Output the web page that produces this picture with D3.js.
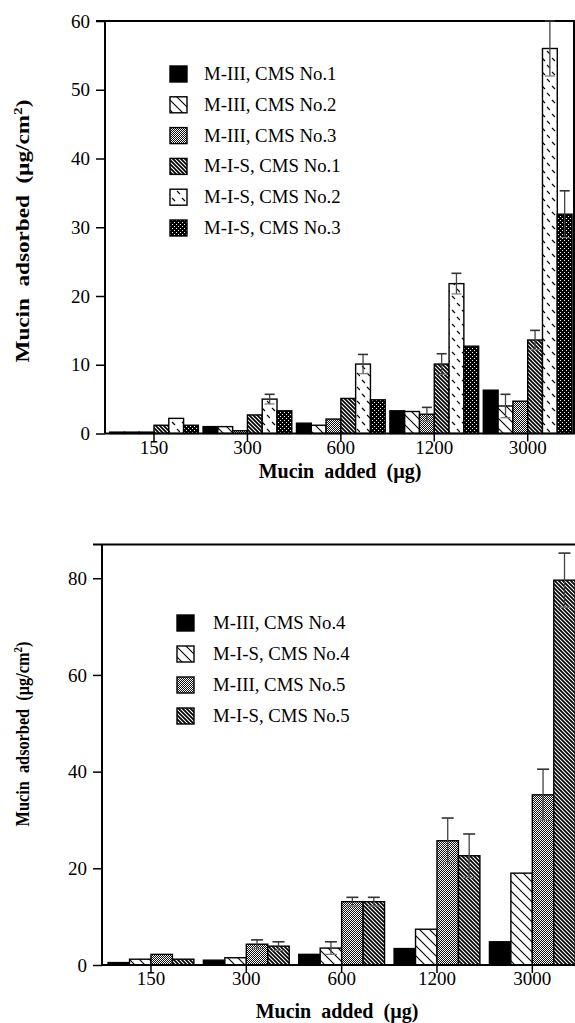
<!DOCTYPE html>
<html>
<head>
<meta charset="utf-8">
<script src="https://cdn.jsdelivr.net/npm/d3@7"></script>
<style>
  html, body { margin: 0; padding: 0; background: #fff; }
  svg { display: block; }
  text { font-family: "Liberation Serif", "Times New Roman", Times, serif; fill: #000; }
</style>
</head>
<body>
<svg id="chart" width="575" height="1023"></svg>
<script>
// Amount of mucin added per well (µg)
const doses = ["150", "300", "600", "1200", "3000"];

// Upper panel: CMS No.1 – No.3
const upperSeries = ["M-III, CMS No.1", "M-III, CMS No.2", "M-III, CMS No.3",
                     "M-I-S, CMS No.1", "M-I-S, CMS No.2", "M-I-S, CMS No.3"];
const m3No1 = [0.2, 1.0, 1.5, 3.3, 6.3];
const m3No2 = [0.2, 1.0, 1.2, 3.2, 4.0];
const m3No3 = [0.2, 0.4, 2.1, 2.8, 4.7];
const misNo1 = [1.2, 2.7, 5.1, 10.1, 13.6];
const misNo2 = [2.2, 5.0, 10.1, 21.8, 56.0];
const misNo3 = [1.2, 3.3, 4.9, 12.7, 31.9];
const m3No1Err = [null, null, null, null, null];
const m3No2Err = [null, null, null, null, 1.7];
const m3No3Err = [null, null, null, 1.0, null];
const misNo1Err = [null, null, null, 1.5, 1.4];
const misNo2Err = [null, 0.7, 1.4, 1.5, 4.0];
const misNo3Err = [null, null, null, null, 3.4];
const upperTicks = [0, 10, 20, 30, 40, 50, 60];

// Lower panel: CMS No.4 – No.5
const lowerSeries = ["M-III, CMS No.4", "M-I-S, CMS No.4", "M-III, CMS No.5", "M-I-S, CMS No.5"];
const m3No4 = [0.5, 1.0, 2.2, 3.4, 4.8];
const misNo4 = [1.2, 1.5, 3.5, 7.4, 19.0];
const m3No5 = [2.2, 4.3, 13.1, 25.7, 35.2];
const misNo5 = [1.2, 3.9, 13.1, 22.6, 79.6];
const m3No4Err = [null, null, null, null, null];
const misNo4Err = [null, null, 1.3, null, null];
const m3No5Err = [null, 0.9, 0.9, 4.7, 5.3];
const misNo5Err = [null, 0.9, 0.9, 4.5, 5.6];
const lowerTicks = [0, 20, 40, 60, 80];

const svg = d3.select("#chart");
const defs = svg.append("defs");

// ---- fill patterns ----
function diagPattern(id, size, bg, fg, width) {
  const p = defs.append("pattern").attr("id", id)
    .attr("patternUnits", "userSpaceOnUse").attr("width", size).attr("height", size);
  p.append("rect").attr("width", size).attr("height", size).attr("fill", bg);
  p.append("path")
    .attr("d", `M0,0L${size},${size}M${size - 2},-2L${size + 2},2M-2,${size - 2}L2,${size + 2}`)
    .attr("stroke", fg).attr("stroke-width", width).attr("fill", "none");
}
diagPattern("hatchSparse", 10, "#fff", "#000", 1.1);
diagPattern("hatchDense", 4, "#000", "#fff", 1.1);

// fine gray halftone
(function () {
  const p = defs.append("pattern").attr("id", "stipple")
    .attr("patternUnits", "userSpaceOnUse").attr("width", 2).attr("height", 2);
  p.append("rect").attr("width", 2).attr("height", 2).attr("fill", "#111");
  p.append("rect").attr("x", 0).attr("y", 0).attr("width", 1).attr("height", 1).attr("fill", "#fff");
  p.append("rect").attr("x", 1).attr("y", 1).attr("width", 1).attr("height", 1).attr("fill", "#fff");
})();

// white dots on black
(function () {
  const p = defs.append("pattern").attr("id", "dots")
    .attr("patternUnits", "userSpaceOnUse").attr("width", 4).attr("height", 4);
  p.append("rect").attr("width", 4).attr("height", 4).attr("fill", "#000");
  p.append("rect").attr("x", 0).attr("y", 0).attr("width", 1).attr("height", 1).attr("fill", "#fff");
  p.append("rect").attr("x", 2).attr("y", 2).attr("width", 1).attr("height", 1).attr("fill", "#fff");
})();

// short dashes on white
(function () {
  const p = defs.append("pattern").attr("id", "dashes")
    .attr("patternUnits", "userSpaceOnUse").attr("width", 10).attr("height", 14);
  p.append("rect").attr("width", 10).attr("height", 14).attr("fill", "#fff");
  p.append("path").attr("d", "M2,2l3,3M7,9l3,3")
    .attr("stroke", "#000").attr("stroke-width", 1.2).attr("fill", "none");
})();

function drawPanel(cfg) {
  const g = svg.append("g");
  const x = d3.scaleBand().domain(doses).range(cfg.xRange)
    .paddingInner(cfg.padIn).paddingOuter(cfg.padOut);
  const xs = d3.scaleBand().domain(cfg.series).range([0, x.bandwidth()]);
  const y = d3.scaleLinear().domain(cfg.yDomain).range(cfg.yRange);

  // frame: top border (and right border where present)
  g.append("line").attr("x1", cfg.axisX - 9).attr("x2", 575)
    .attr("y1", y(cfg.yDomain[1])).attr("y2", y(cfg.yDomain[1]))
    .attr("stroke", "#000").attr("stroke-width", 2);
  if (cfg.rightBorder) {
    g.append("line").attr("x1", cfg.rightBorder).attr("x2", cfg.rightBorder)
      .attr("y1", y(cfg.yDomain[1])).attr("y2", y(0))
      .attr("stroke", "#000").attr("stroke-width", 2);
  }

  // bars
  const rows = [];
  cfg.series.forEach((s, i) => {
    doses.forEach((d, j) => {
      rows.push({ s, d, v: cfg.values[i][j], e: cfg.errors[i][j], fill: cfg.fills[i] });
    });
  });
  g.selectAll("rect.bar").data(rows).join("rect").attr("class", "bar")
    .attr("x", r => x(r.d) + xs(r.s))
    .attr("width", xs.bandwidth())
    .attr("y", r => y(r.v))
    .attr("height", r => y(0) - y(r.v))
    .attr("fill", r => r.fill)
    .attr("stroke", "#000").attr("stroke-width", 1.4);

  // error bars
  const eb = rows.filter(r => r.e != null);
  const cx = r => x(r.d) + xs(r.s) + xs.bandwidth() / 2;
  g.selectAll("line.err").data(eb).join("line").attr("class", "err")
    .attr("x1", cx).attr("x2", cx)
    .attr("y1", r => y(r.v - r.e)).attr("y2", r => y(r.v + r.e))
    .attr("stroke", "#444").attr("stroke-width", 1.3);
  g.selectAll("line.capTop").data(eb).join("line").attr("class", "capTop")
    .attr("x1", r => cx(r) - cfg.cap / 2).attr("x2", r => cx(r) + cfg.cap / 2)
    .attr("y1", r => y(r.v + r.e)).attr("y2", r => y(r.v + r.e))
    .attr("stroke", "#333").attr("stroke-width", 1.6);
  g.selectAll("line.capBot").data(eb).join("line").attr("class", "capBot")
    .attr("x1", r => cx(r) - cfg.cap / 2).attr("x2", r => cx(r) + cfg.cap / 2)
    .attr("y1", r => y(r.v - r.e)).attr("y2", r => y(r.v - r.e))
    .attr("stroke", "#777").attr("stroke-width", 1.2);

  // baseline
  g.append("line").attr("x1", cfg.axisX).attr("x2", 575)
    .attr("y1", y(0)).attr("y2", y(0))
    .attr("stroke", "#000").attr("stroke-width", 2);

  // y axis
  const ya = g.append("g").attr("transform", `translate(${cfg.axisX},0)`)
    .call(d3.axisLeft(y).tickValues(cfg.ticks).tickSize(9).tickSizeOuter(0).tickPadding(6));
  ya.attr("font-family", null).attr("font-size", null);
  ya.select(".domain").attr("stroke", "#000").attr("stroke-width", 2)
    .attr("d", `M0,${y(cfg.yDomain[1])}V${y(0)}`);
  ya.selectAll(".tick line").attr("stroke", "#000").attr("stroke-width", 1.5);
  ya.selectAll(".tick text").attr("font-size", 19);

  // x axis (ticks at group centres)
  const xa = g.append("g").attr("transform", `translate(0,${y(0)})`)
    .call(d3.axisBottom(x).tickSize(8).tickSizeOuter(0).tickPadding(-1));
  xa.attr("font-family", null).attr("font-size", null);
  xa.select(".domain").remove();
  xa.selectAll(".tick line").attr("stroke", "#000").attr("stroke-width", 1.5);
  xa.selectAll(".tick text").attr("font-size", 19);

  // x title
  g.append("text").attr("x", cfg.xTitle[0]).attr("y", cfg.xTitle[1])
    .attr("text-anchor", "middle").attr("font-size", 20).attr("font-weight", "bold")
    .style("white-space", "pre")
    .text("Mucin  added  (\u00b5g)");

  // y title, rotated
  const yt = g.append("text").attr("text-anchor", "middle")
    .attr("font-size", 18).attr("font-weight", "bold").style("white-space", "pre");
  yt.append("tspan").text("Mucin  adsorbed  (\u00b5g/cm");
  yt.append("tspan").attr("dy", -7).attr("font-size", 12).text("2");
  yt.append("tspan").attr("dy", 7).text(")");
  const len = yt.node().getComputedTextLength();
  const sx = cfg.yTitle[2] / len;
  yt.attr("transform", `translate(${cfg.yTitle[0]},${cfg.yTitle[1]}) rotate(-90) scale(${sx},1)`);

  // legend
  const lg = g.append("g");
  cfg.series.forEach((s, i) => {
    const cy = cfg.legend.y0 + i * cfg.legend.dy;
    lg.append("rect").attr("x", cfg.legend.x).attr("y", cy - 8)
      .attr("width", 17).attr("height", 16)
      .attr("fill", cfg.fills[i]).attr("stroke", "#000").attr("stroke-width", 1.4);
    lg.append("text").attr("x", cfg.legend.tx).attr("y", cy + 6)
      .attr("font-size", 18.8).text(s);
  });
}

drawPanel({
  series: upperSeries,
  values: [m3No1, m3No2, m3No3, misNo1, misNo2, misNo3],
  errors: [m3No1Err, m3No2Err, m3No3Err, misNo1Err, misNo2Err, misNo3Err],
  fills: ["#000", "url(#hatchSparse)", "url(#stipple)", "url(#hatchDense)", "url(#dashes)", "url(#dots)"],
  xRange: [107.3, 574.4], padIn: 0.05, padOut: 0.025,
  yDomain: [0, 60], yRange: [433.5, 21], ticks: upperTicks,
  axisX: 105, rightBorder: 574, cap: 10,
  xTitle: [340, 478], yTitle: [29, 231, 263],
  legend: { x: 170, tx: 204, y0: 74, dy: 30.8 }
});

drawPanel({
  series: lowerSeries,
  values: [m3No4, misNo4, m3No5, misNo5],
  errors: [m3No4Err, misNo4Err, m3No5Err, misNo5Err],
  fills: ["#000", "url(#hatchSparse)", "url(#stipple)", "url(#hatchDense)"],
  xRange: [103.3, 580], padIn: 0.1, padOut: 0.05,
  yDomain: [0, 87], yRange: [965, 544.4], ticks: lowerTicks,
  axisX: 102, rightBorder: null, cap: 12,
  xTitle: [337, 1018], yTitle: [29, 734, 185],
  legend: { x: 177, tx: 213, y0: 623, dy: 31 }
});
</script>
</body>
</html>
